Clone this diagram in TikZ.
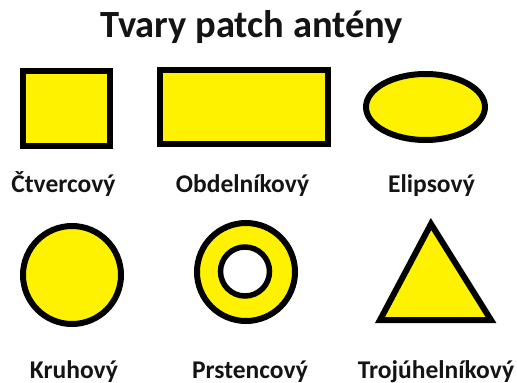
\documentclass[tikz,border=0pt]{standalone}
\usepackage{fontspec}
\setmainfont{Carlito}
\definecolor{patch}{HTML}{FFF200}
\definecolor{ink}{HTML}{141414}
\tikzset{
  shapeline/.style={draw=black, line width=6pt, fill=patch, line join=miter},
  lbl/.style={anchor=base, inner sep=0pt, text=ink, font=\fontsize{25.5}{30}\selectfont\bfseries},
  ttl/.style={anchor=base, inner sep=0pt, text=ink, font=\fontsize{38.5}{44}\selectfont\bfseries}
}
\begin{document}
\begin{tikzpicture}[x=1pt,y=-1pt]
\useasboundingbox (0,0) rectangle (517,383);
\node[ttl] (title) at (251.5,37) {Tvary patch antény};
% row 1
\draw[shapeline] (23,71) rectangle (110,146);
\draw[shapeline] (160,70) rectangle (328,144);
\draw[shapeline] (425.5,107) ellipse [x radius=59.5, y radius=33];
\node[lbl] (l1) at (63.5,192) {Čtvercový};
\node[lbl] (l2) at (242.5,192) {Obdelníkový};
\node[lbl] (l3) at (431.5,192) {Elipsový};
% row 2
\draw[shapeline] (72,275) circle [radius=49];
\draw[shapeline] (246,272) circle [radius=49];
\draw[draw=black, line width=5.5pt, fill=white] (245,271.5) circle [radius=24.5];
\draw[shapeline] (380,320) -- (431,224) -- (491,320) -- cycle;
\node[lbl] (l4) at (74,378) {Kruhový};
\node[lbl] (l5) at (250,378) {Prstencový};
\node[lbl] (l6) at (436,378) {Trojúhelníkový};
\end{tikzpicture}
\end{document}
